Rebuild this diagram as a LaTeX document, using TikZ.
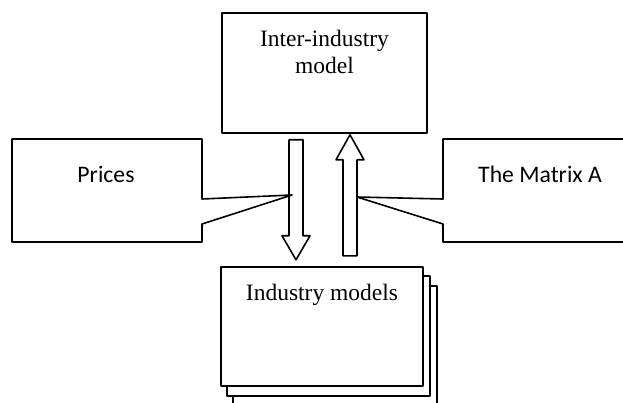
\documentclass[tikz,border=0pt]{standalone}
\usepackage{fontspec}
\setmainfont{Liberation Serif}
\newfontfamily\calibri{Carlito}
\usetikzlibrary{positioning}
\begin{document}
\begin{tikzpicture}[x=1pt,y=-1pt,line join=round,line width=1.6pt,
		box/.style={draw,fill=white,rectangle,inner sep=0pt},
		lbl/.style={inner sep=0pt,align=center,font=\fontsize{23.5}{27}\selectfont},
		sans/.style={inner sep=0pt,font=\calibri\fontsize{23.7}{28}\selectfont}]
		\useasboundingbox (0,0) rectangle (623,403);
		\clip (0,0) rectangle (623,403);
		% top box
		\node[box,minimum width=205pt,minimum height=120pt] (inter) at (324.5,73) {};
		\node[lbl,below=17pt of inter.north] (interText) {Inter-industry\\model};
		% stack of industry boxes
		\draw[fill=white] (233,286) rectangle (437,410);
		\draw[fill=white] (227,276) rectangle (430,396);
		\node[box,minimum width=202pt,minimum height=119pt] (industry) at (322,326.5) {};
		\node[lbl,below=17pt of industry.north] (industryText) {Industry models};
		% block arrows
		\coordinate (downTop) at ([xshift=-28.5pt,yshift=-6pt]inter.south);
		\coordinate (upTip) at ([xshift=25.5pt,yshift=-1pt]inter.south);
		\draw (downTop) ++(-7,0) -- ++(14,0) -- ++(0,96) -- ++(7,0) -- ++(-14,24) -- ++(-14,-24) -- ++(7,0) -- cycle;
		\draw (upTip) -- ++(14,25) -- ++(-7,0) -- ++(0,96) -- ++(-14,0) -- ++(0,-96) -- ++(-7,0) -- cycle;
		% callouts
		\draw (202,199) -- (292,195) -- (202,224) -- (202,242) -- (12,242) -- (12,139) -- (202,139) -- cycle;
		\node[sans,anchor=base] (prices) at (106,183) {Prices};
		\draw (443,199) -- (357,197) -- (443,224) -- (443,242) -- (640,242) -- (640,139) -- (443,139) -- cycle;
		\node[sans,anchor=base] (matrix) at (540,183) {The Matrix A};
	\end{tikzpicture}
\end{document}
